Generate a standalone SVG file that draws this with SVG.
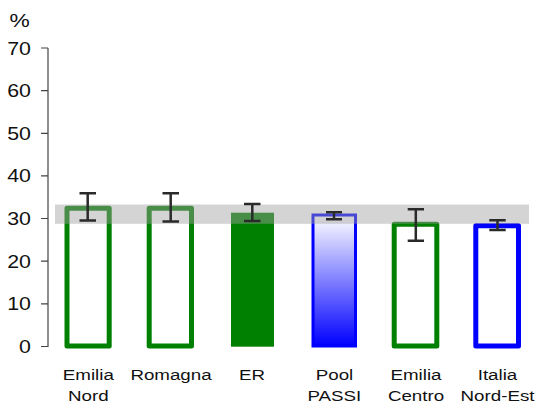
<svg xmlns="http://www.w3.org/2000/svg" width="537" height="405" viewBox="0 0 537 405">
<style>
text{font-family:"Liberation Sans",Arial,sans-serif;fill:#111}
.tick{font-size:17.5px;text-anchor:end}
.lab{font-size:15.5px;text-anchor:middle}
.g{fill:none;stroke:#008000;stroke-width:5;stroke-linejoin:round}
.b{fill:none;stroke:#0000ff;stroke-width:5;stroke-linejoin:round}
.err{stroke:#2a2a2a;stroke-width:2.5;fill:none}
.ax{stroke:#444;stroke-width:1.2;fill:none}
</style>
<defs>
<linearGradient id="pg" x1="0" y1="0" x2="0" y2="1">
<stop offset="0" stop-color="#ffffff"/>
<stop offset="1" stop-color="#0000ff"/>
</linearGradient>
</defs>
<rect width="537" height="405" fill="#fff"/>
<g id="axis">
<path class="ax" d="M48 48V347M41 48H48M41 90.6H48M41 133.3H48M41 175.9H48M41 218.5H48M41 261.2H48M41 303.8H48M41 346.5H48"/>
<text transform="translate(9.5,27) scale(1.2,1)" style="font-size:19px">%</text>
<text class="tick" transform="translate(31,54.5) scale(1.22,1)">70</text>
<text class="tick" transform="translate(31,97) scale(1.22,1)">60</text>
<text class="tick" transform="translate(31,139.7) scale(1.22,1)">50</text>
<text class="tick" transform="translate(31,182.3) scale(1.22,1)">40</text>
<text class="tick" transform="translate(31,224.9) scale(1.22,1)">30</text>
<text class="tick" transform="translate(31,267.6) scale(1.22,1)">20</text>
<text class="tick" transform="translate(31,310.2) scale(1.22,1)">10</text>
<text class="tick" transform="translate(31,352.9) scale(1.22,1)">0</text>
</g>
<g id="bar-emilia-nord"><rect class="g" x="67" y="208.2" width="42.2" height="137.8"/></g>
<g id="bar-romagna"><rect class="g" x="149.2" y="208.2" width="42.3" height="137.8"/></g>
<g id="bar-er"><rect x="231" y="212.7" width="43" height="134" fill="#008000"/></g>
<g id="bar-pool-passi"><rect x="313" y="215" width="42.5" height="131" fill="url(#pg)" stroke="#0000ff" stroke-width="3"/></g>
<g id="bar-emilia-centro"><rect class="g" x="394.2" y="224.2" width="42.6" height="121.8"/></g>
<g id="bar-italia"><rect class="b" x="475.8" y="225.8" width="42.7" height="120.2"/></g>
<g id="band"><rect x="55" y="204.5" width="474" height="19.3" fill="#a0a0a0" fill-opacity="0.45"/></g>
<g id="errorbars">
<path class="err" d="M79.5 193.3H96M79.5 220.5H96M87.7 193.3V220.5"/>
<path class="err" d="M162.5 193.3H179M162.5 221.5H179M170.7 193.3V221.5"/>
<path class="err" d="M244 204H260.5M244 221H260.5M252.3 204V221"/>
<path class="err" d="M326 212.3H342M326 219.3H342M334 212.3V219.3"/>
<path class="err" d="M407.7 209.3H424M407.7 240.7H424M415.8 209.3V240.7"/>
<path class="err" d="M489.3 220.3H505.7M489.3 230H505.7M497.5 220.3V230"/>
</g>
<g id="labels">
<text class="lab" transform="translate(88.3,380) scale(1.21,1)">Emilia</text>
<text class="lab" transform="translate(88.3,401) scale(1.21,1)">Nord</text>
<text class="lab" transform="translate(171,380) scale(1.21,1)">Romagna</text>
<text class="lab" transform="translate(252,380) scale(1.21,1)">ER</text>
<text class="lab" transform="translate(334.5,380) scale(1.21,1)">Pool</text>
<text class="lab" transform="translate(334.3,401) scale(1.21,1)">PASSI</text>
<text class="lab" transform="translate(416,380) scale(1.21,1)">Emilia</text>
<text class="lab" transform="translate(416,401) scale(1.21,1)">Centro</text>
<text class="lab" transform="translate(497.5,380) scale(1.21,1)">Italia</text>
<text class="lab" transform="translate(497.5,401) scale(1.21,1)">Nord-Est</text>
</g>
</svg>
